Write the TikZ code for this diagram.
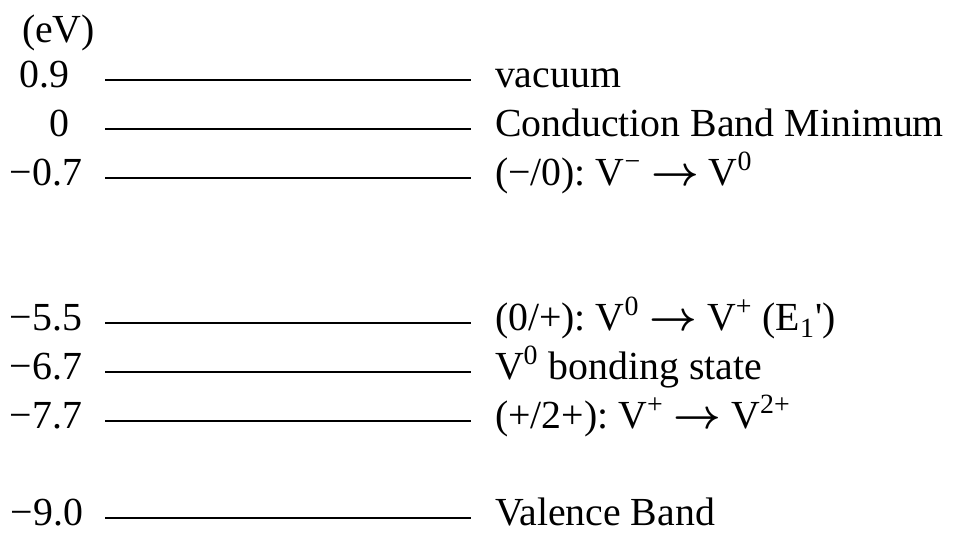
\documentclass[tikz,border=0pt]{standalone}
\usepackage{fontspec}
\setmainfont{Liberation Serif}
\frenchspacing
\newcommand{\myarrow}{{\boldmath$\rightarrow$}}
\begin{document}
\begin{tikzpicture}[x=0.5pt,y=-0.5pt,
  every node/.style={inner sep=0pt,outer sep=0pt,font=\fontsize{19.9}{24}\selectfont\frenchspacing},
  val/.style={anchor=base east},
  lab/.style={anchor=base west},
  level/.style={line width=1pt,black}]
\useasboundingbox (0,0) rectangle (964,533);
\node[anchor=base west] (unit) at (22,43) {(eV)};
% levels: y positions
\foreach \n/\y/\vx/\v in {a/80/69/0.9, b/129/69/0, c/178/82/−0.7, d/323/82/−5.5, e/372/82/−6.7, f/421/82/−7.7, g/518/83/−9.0}{
  \node[val] (v\n) at (\vx,\y+8) {\v};
  \coordinate (s\n) at (105,\y);
  \coordinate (e\n) at (471,\y);
  \draw[level] (s\n) -- (e\n);
}
\node[lab] (la) at (495,88) {vacuum};
\node[lab] (lb) at (495,137) {Conduction Band Minimum};
\node[lab] (lc) at (495,186) {(−/0): V\textsuperscript{−} \myarrow\ V\textsuperscript{0}};
\node[lab] (ld) at (495,331) {(0/+): V\textsuperscript{0} \myarrow\ V\textsuperscript{+} (E\textsubscript{1}\textquotesingle)};
\node[lab] (le) at (495,380) {V\textsuperscript{0} bonding state};
\node[lab] (lf) at (495,429) {(+/2+): V\textsuperscript{+} \myarrow\ V\textsuperscript{2+}};
\node[lab] (lg) at (495,526) {Valence Band};
\end{tikzpicture}
\end{document}
